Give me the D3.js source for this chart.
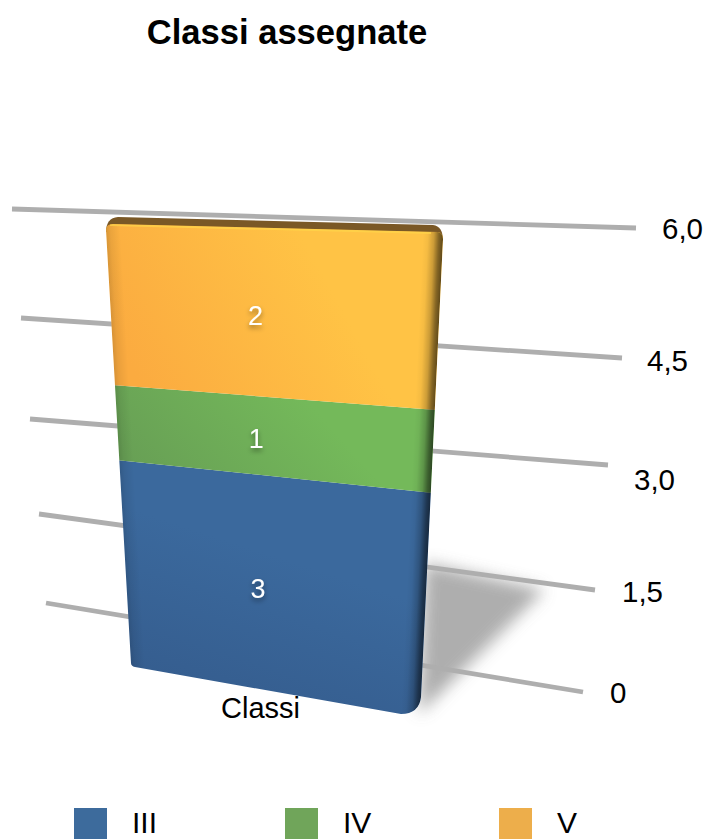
<!DOCTYPE html>
<html><head><meta charset="utf-8">
<script src="https://cdn.jsdelivr.net/npm/d3@7/dist/d3.min.js"></script>
<style>html,body{margin:0;padding:0;background:#fff}svg{display:block}text{font-family:"Liberation Sans",Arial,sans-serif}</style>
</head><body><svg id="c" width="707" height="839"></svg>
<script>
const titleText = "Classi assegnate";
const categories = ["Classi"];
const seriesNames = ["III","IV","V"];
const seriesValues = [3,1,2];
const seriesColors = ["#3d6b9c","#70a55a","#edae4b"];
const tickValues = [0,1.5,3,4.5,6];
const tickLabels = ["0","1,5","3,0","4,5","6,0"];

(function(){
const svg=d3.select("#c");
const defs=svg.append("defs");

// Perspective axes: each gridline end and each bar edge has its own scale in value space
const gridLX=d3.scaleLinear().domain(tickValues).range([46,39,30,21,12]);
const gridLY=d3.scaleLinear().domain(tickValues).range([603,514,419,318,209]);
const gridRX=d3.scaleLinear().domain(tickValues).range([583,595,608,622,636]);
const gridRY=d3.scaleLinear().domain(tickValues).range([692,590,465,358,228]);
const tickX=d3.scaleLinear().domain(tickValues).range([610,622,634,647,662]);
const tickY=d3.scaleLinear().domain(tickValues).range([692,591,479,360,228]);

const barDomain=[0,3,4,6];
const barLX=d3.scaleLinear().domain(barDomain).range([131,119,115,106]);
const barLY=d3.scaleLinear().domain(barDomain).range([665,460,385,224]);
const barRX=d3.scaleLinear().domain(barDomain).range([421,430,433,443]);
const barRY=d3.scaleLinear().domain(barDomain).range([715,493,410,233]);

const stackRow=Object.fromEntries(seriesNames.map((n,i)=>[n,seriesValues[i]]));
const stacked=d3.stack().keys(seriesNames)([stackRow]);
const vTop=d3.max(stacked,s=>s[0][1]);

// shadow filters
const f1=defs.append("filter").attr("id","blur").attr("x","-30%").attr("y","-30%").attr("width","160%").attr("height","160%");
f1.append("feGaussianBlur").attr("stdDeviation",8);
const f2=defs.append("filter").attr("id","txtsh").attr("x","-50%").attr("y","-50%").attr("width","200%").attr("height","220%");
f2.append("feDropShadow").attr("dx",0).attr("dy",3).attr("stdDeviation",2.5).attr("flood-color","#000").attr("flood-opacity",0.4);

// floor shadow cast on the right of the bar
function gp(u,v){return [gridLX(v)+(gridRX(v)-gridLX(v))*u, gridLY(v)+(gridRY(v)-gridLY(v))*u];}
svg.append("path")
  .attr("d",d3.line()([gp(.694,1.55),gp(.91,1.4),gp(.73,-.45),gp(.70,-.75)])+"Z")
  .attr("fill","#9a9a9a").attr("opacity",.8).attr("filter","url(#blur)");

// gridlines
svg.append("g").selectAll("line").data(tickValues).join("line")
  .attr("x1",gridLX).attr("y1",gridLY).attr("x2",gridRX).attr("y2",gridRY)
  .attr("stroke","#aeaeae").attr("stroke-width",4.8);

// bar back/top face
const backOffset=7;
svg.append("path").attr("d",()=>{
  const p=d3.path();
  p.moveTo(barLX(vTop),barLY(vTop)+8);
  p.quadraticCurveTo(barLX(vTop),barLY(vTop)-backOffset+1,barLX(vTop)+12,barLY(vTop)-backOffset);
  p.lineTo(barRX(vTop)-10,barRY(vTop)-backOffset-1);
  p.quadraticCurveTo(barRX(vTop),barRY(vTop)-backOffset,barRX(vTop),barRY(vTop)+8);
  p.closePath();return p;
}).attr("fill","#7a5826");

// silhouette clip
function silhouette(){
  const p=d3.path();
  p.moveTo(barLX(0),barLY(0)-2);
  p.lineTo(barLX(vTop),barLY(vTop)+6);
  p.quadraticCurveTo(barLX(vTop),barLY(vTop),barLX(vTop)+7,barLY(vTop));
  p.lineTo(barRX(vTop)-5,barRY(vTop)-1);
  p.quadraticCurveTo(barRX(vTop),barRY(vTop),barRX(vTop),barRY(vTop)+6);
  p.lineTo(barRX(0),barRY(0)-18);
  p.quadraticCurveTo(barRX(0)-2,barRY(0)-1,barRX(0)-20,barRY(0)-1);
  p.lineTo(barLX(0)+4,barLY(0)+2);
  p.quadraticCurveTo(barLX(0),barLY(0)+1,barLX(0),barLY(0)-2);
  p.closePath();return p.toString();
}
defs.append("clipPath").attr("id","sil").append("path").attr("d",silhouette());

// series gradients
const faceStops=[["#345b8c","#3b699d"],["#68a055","#74b95a"],["#fbab40","#ffc345"]];
seriesNames.forEach((n,i)=>{
  const g=defs.append("linearGradient").attr("id","g"+i).attr("x1",i===0?"0.2":"0").attr("y1",i===0?"1":"0.5").attr("x2",i===0?"0.6":"1").attr("y2",i===0?"0":"0.2");
  g.append("stop").attr("offset","0").attr("stop-color",faceStops[i][0]);
  g.append("stop").attr("offset","0.65").attr("stop-color",faceStops[i][1]);
  g.append("stop").attr("offset","1").attr("stop-color",faceStops[i][1]);
});

// side bevels: gradient vectors run perpendicular to each slanted bar edge
function bevel(id,xs,ys,inward,width,stops){
  const a=[xs(vTop),ys(vTop)],b=[xs(0),ys(0)];
  const dx=b[0]-a[0],dy=b[1]-a[1],len=Math.hypot(dx,dy);
  const n=[dy/len*inward,-dx/len*inward];
  const g=defs.append("linearGradient").attr("id",id).attr("gradientUnits","userSpaceOnUse")
    .attr("x1",a[0]).attr("y1",a[1]).attr("x2",a[0]+n[0]*width).attr("y2",a[1]+n[1]*width);
  stops.forEach(s=>g.append("stop").attr("offset",s[0]).attr("stop-color","#000").attr("stop-opacity",s[1]));
}
bevel("bevR",barRX,barRY,-1,20,[[0,.62],[.2,.48],[.45,.2],[.75,.04],[1,0]]);
bevel("bevL",barLX,barLY,1,14,[[0,.14],[.3,.07],[1,0]]);

const bar=svg.append("g").attr("clip-path","url(#sil)");
bar.selectAll("path.seg").data(stacked).join("path").attr("class","seg")
  .attr("d",s=>{
    const [a,b]=s[0];
    return d3.line()([[barLX(a)-3,barLY(a)+(a===0?6:0)],[barLX(b)-3,barLY(b)-(b===vTop?3:0)],[barRX(b)+3,barRY(b)-(b===vTop?3:0)],[barRX(a)+3,barRY(a)+(a===0?6:0)]])+"Z";
  })
  .attr("fill",(s,i)=>`url(#g${i})`);
bar.append("path").attr("d",silhouette()).attr("fill","url(#bevR)");
bar.append("path").attr("d",silhouette()).attr("fill","url(#bevL)");
// highlight along the top edge
const hl=d3.line()([[barLX(vTop)+4,barLY(vTop)+1],[barRX(vTop)-12,barRY(vTop)]]);
bar.append("path").attr("d",hl).attr("stroke","#ffd64a").attr("stroke-width",2).attr("fill","none").attr("opacity",.7);

// data labels
const labelDrop=d3.scaleLinear().domain([1,2,3]).range([3,3,8]);
svg.append("g").selectAll("text").data(stacked).join("text")
  .attr("x",s=>{const m=(s[0][0]+s[0][1])/2;return barLX(m)+(barRX(m)-barLX(m))*.443;})
  .attr("y",s=>{const m=(s[0][0]+s[0][1])/2;return (barLY(m)*.555+barRY(m)*.445)+labelDrop(s[0][1]-s[0][0]);})
  .attr("text-anchor","middle").attr("dy","0.35em").attr("font-size",27).attr("fill","#fff")
  .attr("filter","url(#txtsh)").text((s,i)=>seriesValues[i]);

// tick labels
svg.append("g").selectAll("text").data(tickValues).join("text")
  .attr("x",tickX).attr("y",tickY).attr("dy","0.36em").attr("font-size",29.5).attr("fill","#000")
  .text((d,i)=>tickLabels[i]);

// category label
svg.append("text").attr("x",260.5).attr("y",708).attr("dy","0.36em").attr("text-anchor","middle")
  .attr("font-size",29).attr("fill","#000").text(categories[0]);

// title
svg.append("text").attr("x",287).attr("y",32).attr("dy","0.36em").attr("text-anchor","middle")
  .attr("font-size",34.6).attr("font-weight","bold").attr("fill","#000").text(titleText);

// legend
const legendX=d3.scalePoint().domain(seriesNames).range([74,499]);
const leg=svg.append("g").selectAll("g").data(seriesNames).join("g")
  .attr("transform",d=>`translate(${legendX(d)+(d==="IV"?-1.5:0)},808)`);
leg.append("rect").attr("width",33).attr("height",31).attr("fill",(d,i)=>seriesColors[i]);
leg.append("text").attr("x",58).attr("y",25).attr("font-size",30).attr("fill","#000").text(d=>d);
})();
</script></body></html>
